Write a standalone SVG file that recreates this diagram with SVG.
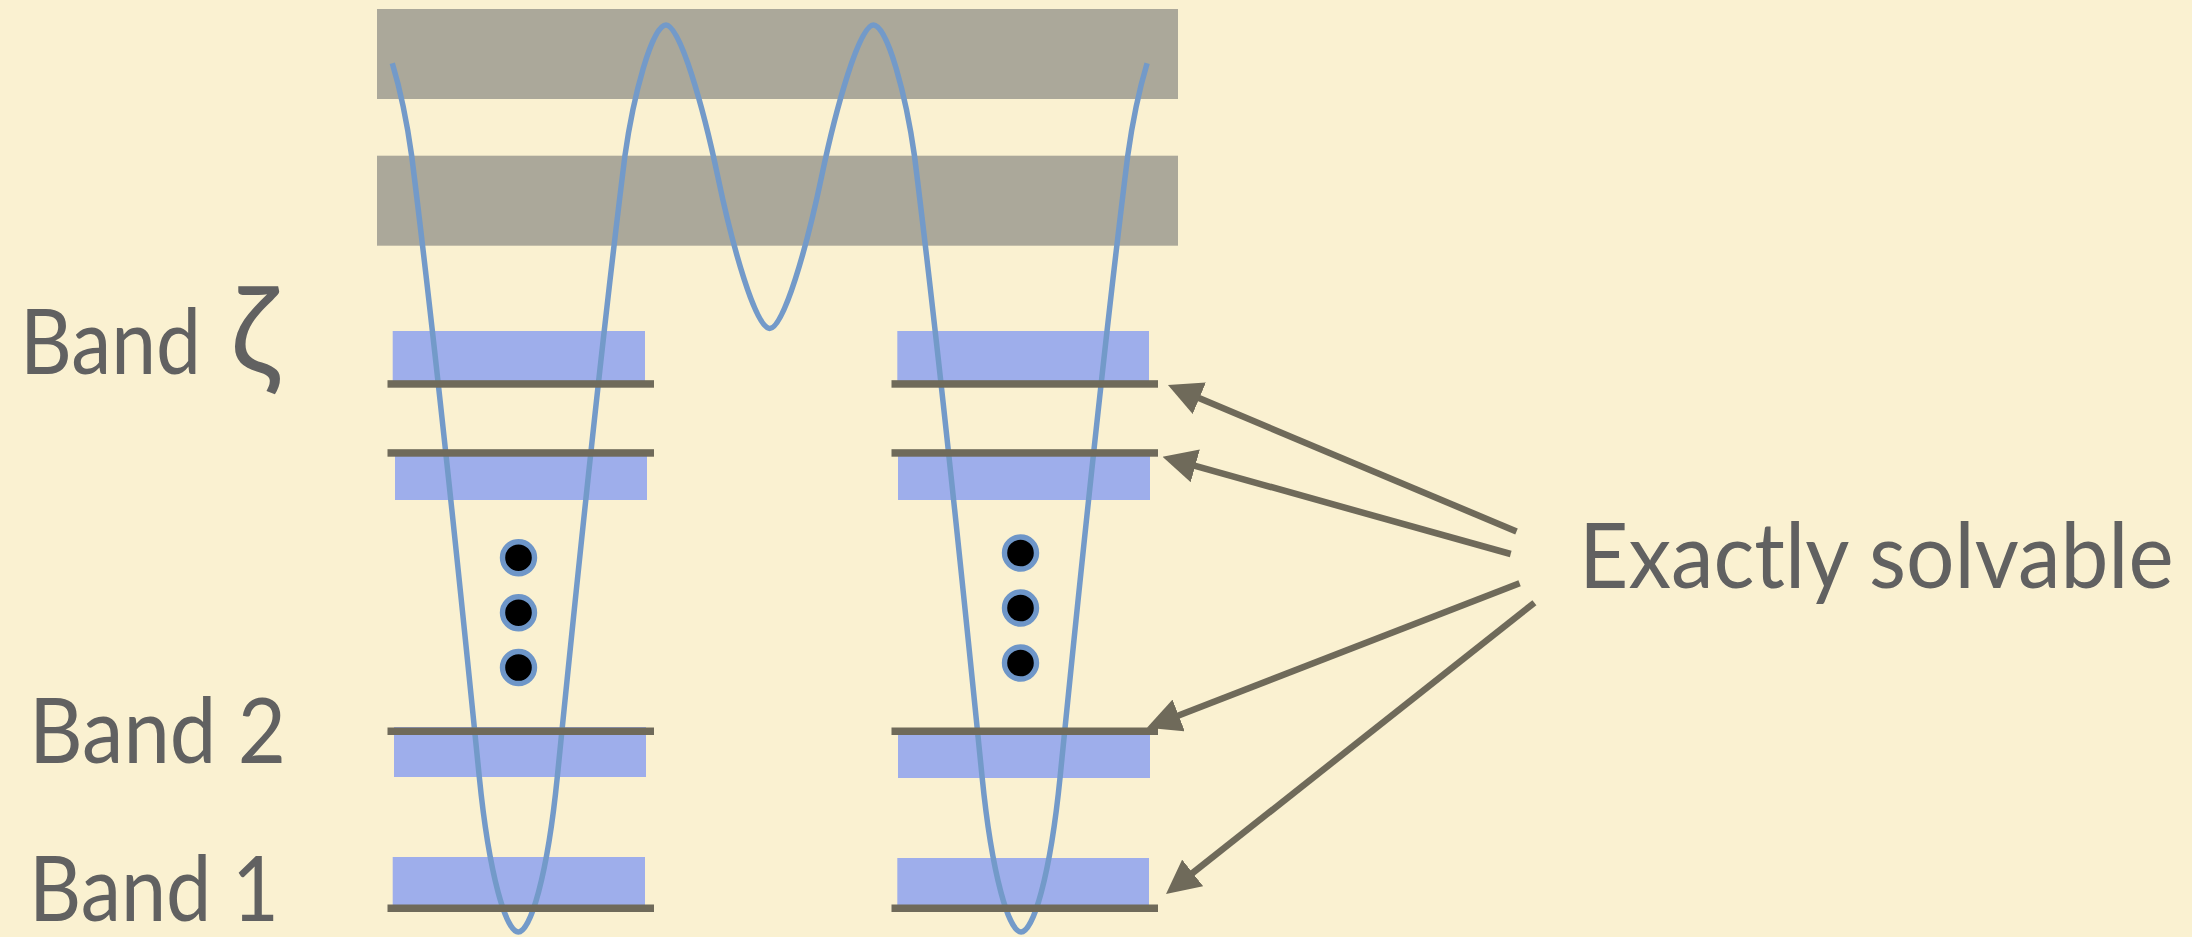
<svg xmlns="http://www.w3.org/2000/svg" width="2192" height="937" viewBox="0 0 2192 937">
<style>
.gray{fill:#ABA89A}
.band{fill:#9EAEEB}
.level{fill:#6F6A5A}
.dot{fill:#000;stroke:#6E96C8;stroke-width:5.4}
.curve{fill:none;stroke:#739AC9;stroke-width:5.5;stroke-linecap:butt}
.label{font-family:Lato,'Noto Sans','DejaVu Sans',sans-serif;font-size:91px;fill:#616161}
.arrow{fill:none;stroke:#6F6A5A;stroke-width:6.5;marker-end:url(#ah)}
</style>
<defs>
<marker id="ah" viewBox="0 0 34 34" markerWidth="34" markerHeight="34" markerUnits="userSpaceOnUse" refX="14" refY="17" orient="auto">
<path d="M0,0 L34,17 L0,34 z" fill="#6F6A5A"/>
</marker>
</defs>
<rect id="background" x="0" y="0" width="2192" height="937" fill="#FAF1D1"/>
<g id="barrier-upper"><rect class="gray" x="377" y="9" width="801" height="90"/></g>
<g id="barrier-lower"><rect class="gray" x="377" y="155.7" width="801" height="90"/></g>
<g id="bands-left">
<rect class="band" x="392.7" y="331" width="252.3" height="50"/>
<rect class="band" x="395" y="456" width="252" height="44"/>
<rect class="band" x="394" y="727" width="252" height="50"/>
<rect class="band" x="392.7" y="857" width="252.3" height="48"/>
</g>
<g id="bands-right">
<rect class="band" x="897.3" y="331" width="251.7" height="50"/>
<rect class="band" x="898" y="456" width="252" height="44"/>
<rect class="band" x="898" y="733" width="252" height="45"/>
<rect class="band" x="897.3" y="858" width="251.7" height="47"/>
</g>
<g id="potential">
<path class="curve" d="M392.3,63.3 C401.6,94.3 407.4,125 411.7,156 C437.6,363 458.6,570 479.3,777 C489.3,877 506.3,932 518.3,932 C530.3,932 547.3,877 557.3,777 C578,570 599,363 624.9,156 C633.3,96 652,25 666,25 C680,25 703.15,106.75 717.85,176.75 C732.55,246.75 755.7,328.5 769.7,328.5 C783.7,328.5 806.85,246.75 821.55,176.75 C836.25,106.75 859.4,25 873.4,25 C887.4,25 906.1,96 914.5,156 C940.4,363 961.4,570 982.1,777 C992.1,877 1009.1,932 1021.1,932 C1033.1,932 1050.1,877 1060.1,777 C1080.8,570 1101.8,363 1127.7,156 C1132,125 1137.8,94.3 1147.1,63.3"/>
</g>
<g id="levels-left">
<rect class="level" x="387.5" y="380.2" width="266.5" height="7.5"/>
<rect class="level" x="387.5" y="449.2" width="266.5" height="7.5"/>
<rect class="level" x="387.5" y="727.5" width="266.5" height="7.5"/>
<rect class="level" x="387.5" y="904.5" width="266.5" height="7.5"/>
</g>
<g id="levels-right">
<rect class="level" x="891.5" y="380.2" width="266.5" height="7.5"/>
<rect class="level" x="891.5" y="449.2" width="266.5" height="7.5"/>
<rect class="level" x="891.5" y="727.5" width="266.5" height="7.5"/>
<rect class="level" x="891.5" y="904.5" width="266.5" height="7.5"/>
</g>
<g id="dots-left">
<circle class="dot" cx="518.5" cy="557.7" r="16"/>
<circle class="dot" cx="518.5" cy="612.7" r="16"/>
<circle class="dot" cx="518.5" cy="667.5" r="16"/>
</g>
<g id="dots-right">
<circle class="dot" cx="1020.5" cy="553" r="16"/>
<circle class="dot" cx="1020.5" cy="608" r="16"/>
<circle class="dot" cx="1020.5" cy="663" r="16"/>
</g>
<g id="label-band-zeta"><text class="label" x="20" y="374"><tspan textLength="181" lengthAdjust="spacingAndGlyphs">Band</tspan> <tspan x="230" font-size="122">ζ</tspan></text></g>
<g id="label-band-2"><text class="label" x="29" y="763" textLength="257" lengthAdjust="spacingAndGlyphs">Band 2</text></g>
<g id="label-band-1"><text class="label" x="29" y="921" textLength="250" lengthAdjust="spacingAndGlyphs">Band 1</text></g>
<g id="label-exactly-solvable"><text class="label" transform="translate(1579,588) scale(0.94,1)" x="0" y="0">Exactly solvable</text></g>
<g id="connectors">
<path class="arrow" d="M1516.5,531.5 L1186.4,392.8"/>
<path class="arrow" d="M1510.7,554 L1181.8,462.1"/>
<path class="arrow" d="M1519.6,583.3 L1165.6,720.5"/>
<path class="arrow" d="M1534.4,602.7 L1181.7,881.6"/>
</g>
</svg>
